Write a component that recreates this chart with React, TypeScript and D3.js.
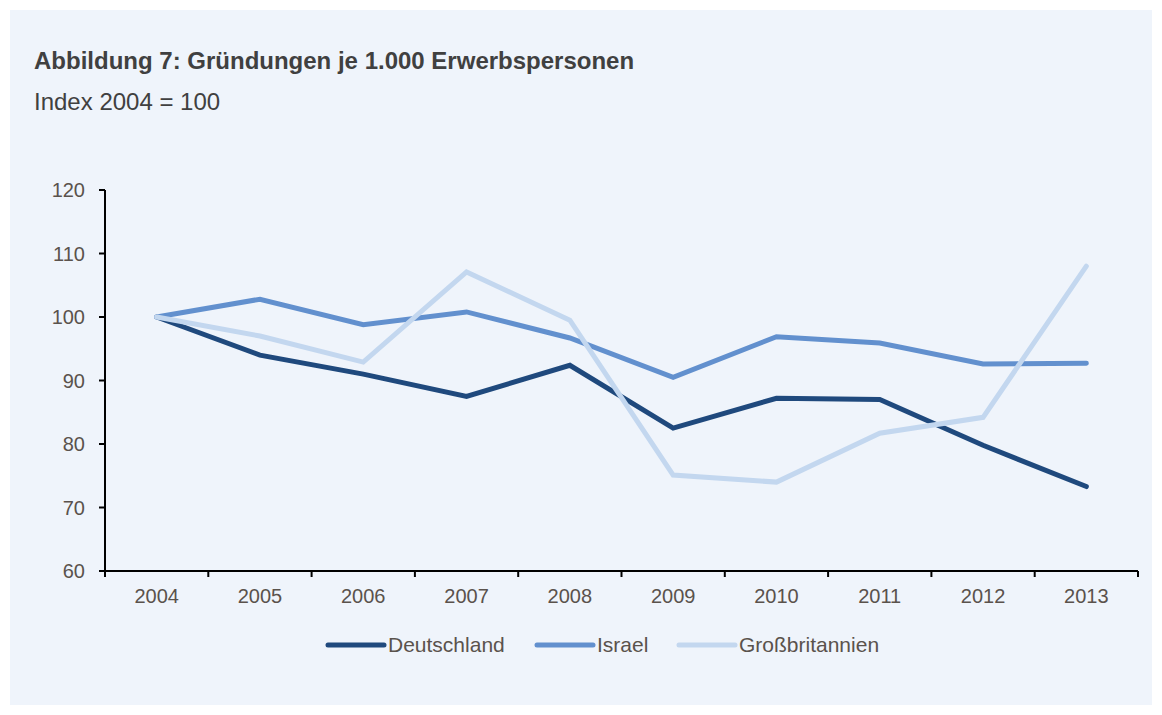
import { useMemo } from "react";
import * as d3 from "d3";

const years = ["2004", "2005", "2006", "2007", "2008", "2009", "2010", "2011", "2012", "2013"];
const deutschland = [100, 94.0, 91.0, 87.5, 92.4, 82.5, 87.2, 87.0, 79.8, 73.3];
const israel = [100, 102.8, 98.8, 100.8, 96.7, 90.5, 96.9, 95.9, 92.6, 92.7];
const grossbritannien = [100, 97.0, 92.9, 107.1, 99.5, 75.1, 74.0, 81.7, 84.2, 108.0];
const yTicks = [60, 70, 80, 90, 100, 110, 120];

const series = [
  { name: "Deutschland", values: deutschland, color: "#1f497d" },
  { name: "Israel", values: israel, color: "#6290ce" },
  { name: "Großbritannien", values: grossbritannien, color: "#c3d7ef" },
];

const width = 1162;
const height = 715;
const margin = { top: 190, right: 24, bottom: 144, left: 105 };
const font = "'Liberation Sans', Arial, sans-serif";
const textColor = "#5a524c";

export default function App() {
  const plot = useMemo(
    () => ({
      x0: margin.left,
      x1: width - margin.right,
      y0: height - margin.bottom,
      y1: margin.top,
    }),
    []
  );

  // X軸
  const xScale = useMemo(
    () => d3.scaleBand().domain(years).range([plot.x0, plot.x1]),
    [plot]
  );
  // Y軸
  const yScale = useMemo(
    () => d3.scaleLinear().domain([60, 120]).range([plot.y0, plot.y1]),
    [plot]
  );

  const line = useMemo(
    () =>
      d3
        .line<number>()
        .x((_, i) => (xScale(years[i]) ?? 0) + xScale.bandwidth() / 2)
        .y((d) => yScale(d)),
    [xScale, yScale]
  );

  const boundaries = years.map((y) => xScale(y) ?? 0).concat([plot.x1]);

  // legend item offsets
  const legendX = [328, 537, 679];
  const legendY = 645;

  return (
    <svg
      width={width}
      height={height}
      viewBox={`0 0 ${width} ${height}`}
      style={{ position: "absolute", left: 0, top: 0, fontFamily: font }}
    >
      <rect x={0} y={0} width={width} height={height} fill="#ffffff" />
      <rect x={10} y={10} width={1142} height={695} fill="#eff4fb" />

      <text x={34} y={69} fontSize={24} fontWeight="bold" fill="#404040">
        Abbildung 7: Gründungen je 1.000 Erwerbspersonen
      </text>
      <text x={34} y={110} fontSize={24} fill="#404040">
        Index 2004 = 100
      </text>

      {/* Axis */}
      <line x1={plot.x0} y1={plot.y0} x2={plot.x1} y2={plot.y0} stroke="#000" strokeWidth={2} />
      <line x1={plot.x0} y1={plot.y0} x2={plot.x0} y2={plot.y1} stroke="#000" strokeWidth={2} />
      {yTicks.map((t) => (
        <g key={t}>
          <line x1={plot.x0 - 6} x2={plot.x0} y1={yScale(t)} y2={yScale(t)} stroke="#000" strokeWidth={2} />
          <text
            x={plot.x0 - 20}
            y={yScale(t)}
            dy="0.36em"
            textAnchor="end"
            fontSize={20}
            fill={textColor}
          >
            {t}
          </text>
        </g>
      ))}
      {boundaries.map((bx, i) => (
        <line key={i} x1={bx} x2={bx} y1={plot.y0} y2={plot.y0 + 6} stroke="#000" strokeWidth={2} />
      ))}
      {years.map((y) => (
        <text
          key={y}
          x={(xScale(y) ?? 0) + xScale.bandwidth() / 2}
          y={plot.y0 + 32}
          textAnchor="middle"
          fontSize={20}
          fill={textColor}
        >
          {y}
        </text>
      ))}

      {/* Plot */}
      {series.map((s) => (
        <path
          key={s.name}
          d={line(s.values) ?? ""}
          fill="none"
          stroke={s.color}
          strokeWidth={5}
          strokeLinecap="round"
          strokeLinejoin="miter"
        />
      ))}

      {/* Legend */}
      {series.map((s, i) => (
        <g key={s.name} transform={`translate(${legendX[i]},${legendY})`}>
          <line x1={0} x2={56} y1={0} y2={0} stroke={s.color} strokeWidth={5} strokeLinecap="round" />
          <text x={60} y={7} fontSize={21} fill={textColor}>
            {s.name}
          </text>
        </g>
      ))}
    </svg>
  );
}
